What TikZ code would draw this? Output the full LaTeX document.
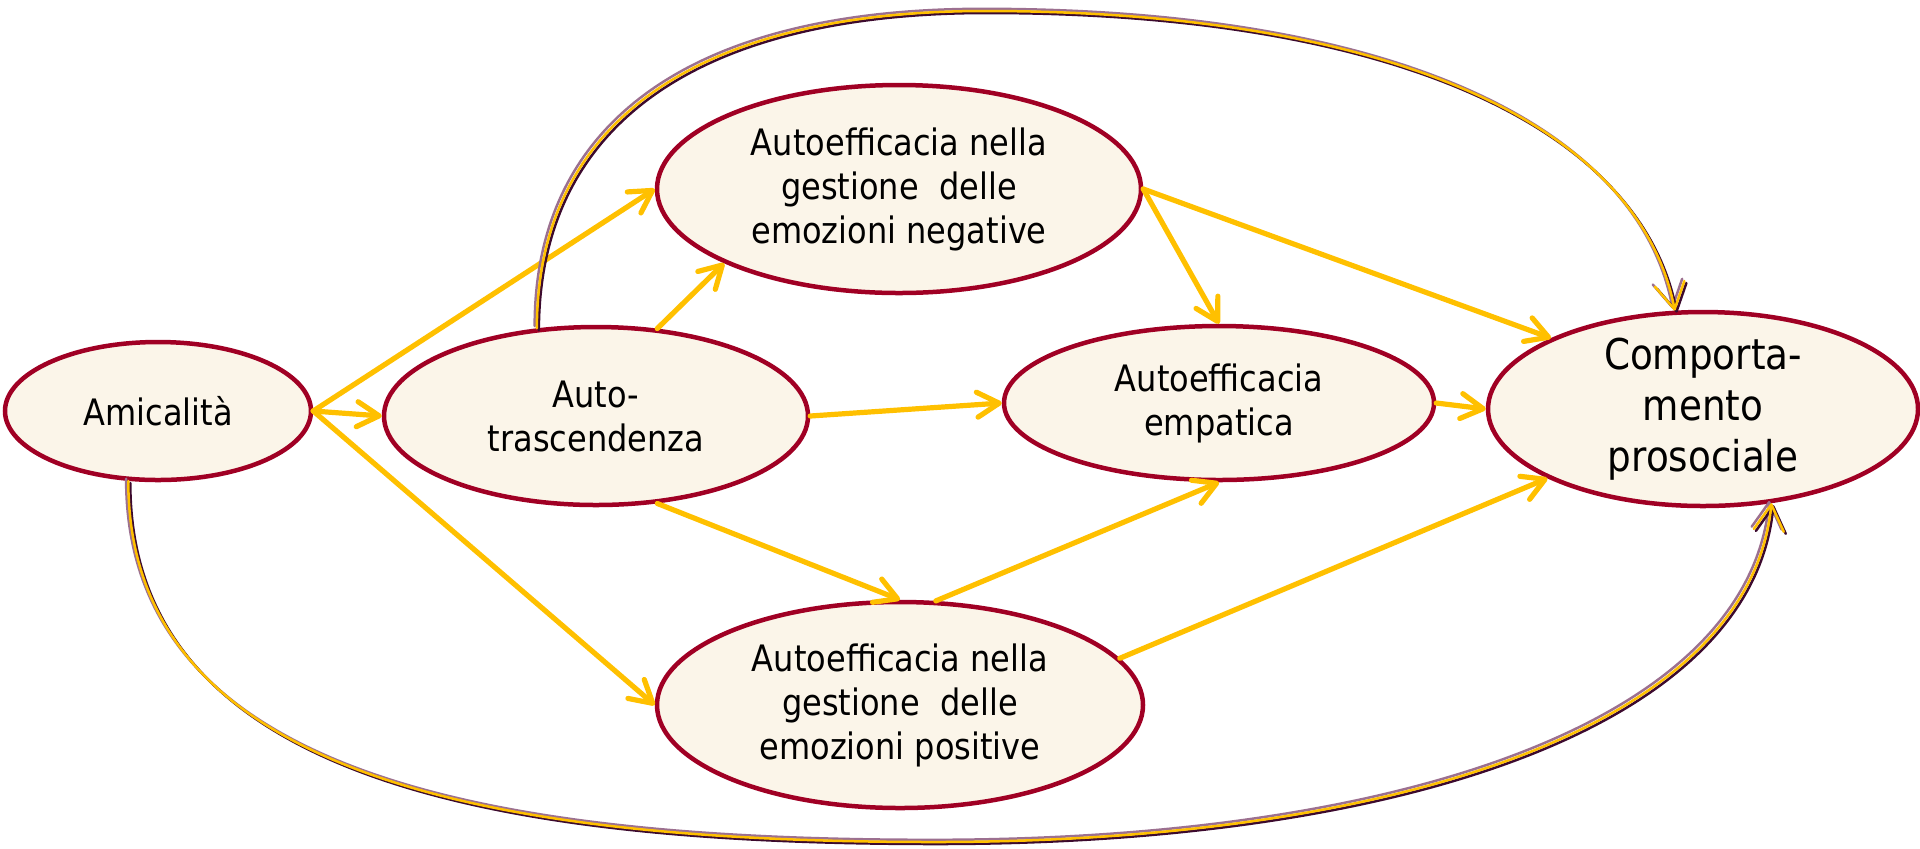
\documentclass[tikz,border=0pt]{standalone}
\usepackage{fontspec}
\setmainfont{DejaVu Sans}[FakeStretch=0.88]
\usetikzlibrary{arrows.meta,shapes.geometric}
\definecolor{ellfill}{RGB}{251,245,233}
\definecolor{ellborder}{RGB}{160,0,36}
\definecolor{arrowyellow}{RGB}{255,192,0}
\definecolor{arcmauve}{RGB}{156,112,144}
\definecolor{arcdark}{RGB}{60,10,46}
\tikzset{
  varnode/.style={ellipse, draw=ellborder, fill=ellfill, line width=2.25pt,
    inner sep=0pt, align=center, text=black,
    font=\fontsize{18.2}{22}\selectfont},
  yarrow/.style={draw=arrowyellow, line width=2.6pt, line cap=round,
    -{Straight Barb[length=11pt,width=12.5pt,round]}},
  arcline/.style={line width=1.25pt, line cap=round,
    -{Straight Barb[length=13pt,width=15pt,round]}},
  arcmauvestyle/.style={arcline, draw=arcmauve, transform canvas={shift={(-2.2,-2.2)}}},
  arcdarkstyle/.style={arcline, draw=arcdark, transform canvas={shift={(2,2)}}},
  arcyellowstyle/.style={arcline, draw=arrowyellow},
}
\begin{document}
\begin{tikzpicture}[x=0.5pt,y=-0.5pt]
\useasboundingbox (0,0) rectangle (1920,848);

\node[varnode, minimum width=153pt, minimum height=69pt] (A) at (158,411) {Amicalità};
\node[varnode, minimum width=212pt, minimum height=89pt] (T) at (596,416) {Auto-\\trascendenza};
\node[varnode, minimum width=242pt, minimum height=104pt] (N) at (899,189) {Autoefficacia nella\\gestione\ \ delle\\emozioni negative};
\node[varnode, minimum width=215pt, minimum height=77pt] (E) at (1219,403) {Autoefficacia\\empatica};
\node[varnode, minimum width=215pt, minimum height=97pt, inner ysep=-4pt,
      font=\fontsize{21.2}{25.5}\selectfont] (C) at (1703,409) {Comporta-\\mento\\prosociale};
\node[varnode, minimum width=243pt, minimum height=103pt] (P) at (900,705) {Autoefficacia nella\\gestione\ \ delle\\emozioni positive};

% straight arrows
\draw[yarrow] (A.east) -- (N.west);
\draw[yarrow] (A.east) -- (T.west);
\draw[yarrow] (A.east) -- (P.west);
\draw[yarrow] (T.55) -- (N.203.3);
\draw[yarrow] (T.east) -- (E.west);
\draw[yarrow] (T.-55.6) -- (P.north);
\draw[yarrow] (P.71.7) -- (E.south);
\draw[yarrow] (P.12.4) -- (C.204.2);
\draw[yarrow] (N.east) -- (E.north);
\draw[yarrow] (N.east) -- (C.155.4);
\draw[yarrow] (E.east) -- (C.west);

% curved arrow over the top
\foreach \s in {arcmauvestyle, arcdarkstyle, arcyellowstyle}{
  \draw[\s] (T.124) .. controls (537,120) and (700,11) .. (985,11)
    .. controls (1400,11) and (1640,130) .. (C.106.5);
}
% curved arrow underneath
\foreach \s in {arcmauvestyle, arcdarkstyle, arcyellowstyle}{
  \draw[\s] (A.247) .. controls (128,780) and (500,842) .. (935,842)
    .. controls (1400,842) and (1750,725) .. (C.306.4);
}
\end{tikzpicture}
\end{document}
